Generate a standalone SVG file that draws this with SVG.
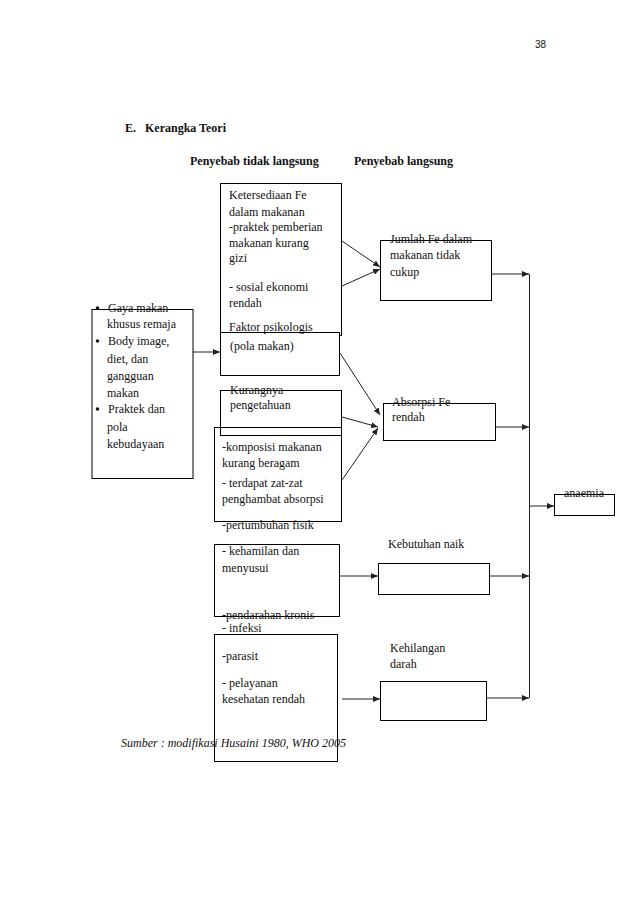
<svg xmlns="http://www.w3.org/2000/svg" width="638" height="902" viewBox="0 0 638 902">
<style>
text{font-family:"Liberation Serif","Times New Roman",serif;font-size:12px;fill:#111}
.b{font-weight:bold}
.box{fill:none;stroke:#000;stroke-width:1}
.wbox{fill:#fff;stroke:#000;stroke-width:1}
.c{fill:none;stroke:#222;stroke-width:1}
</style>
<defs>
<marker id="ah" markerWidth="7" markerHeight="6" refX="7" refY="3" orient="auto" markerUnits="userSpaceOnUse">
<path d="M0,0 L7,3 L0,6 Z" fill="#222"/>
</marker>
</defs>
<rect width="638" height="902" fill="#fff"/>
<text x="535" y="48" style="font-family:'Liberation Sans',Arial,sans-serif;font-size:10px">38</text>
<text x="125" y="132" class="b">E.</text>
<text x="145" y="132" class="b">Kerangka Teori</text>
<text x="190" y="165" class="b">Penyebab tidak langsung</text>
<text x="354" y="165" class="b">Penyebab langsung</text>

<g id="connectors">
<line class="c" x1="193" y1="352" x2="220" y2="352" marker-end="url(#ah)"/>
<line class="c" x1="342" y1="241" x2="380" y2="267" marker-end="url(#ah)"/>
<line class="c" x1="342" y1="286" x2="380" y2="269" marker-end="url(#ah)"/>
<line class="c" x1="340" y1="353" x2="380" y2="415" marker-end="url(#ah)"/>
<line class="c" x1="342" y1="417" x2="378" y2="427" marker-end="url(#ah)"/>
<line class="c" x1="342" y1="480" x2="378" y2="428" marker-end="url(#ah)"/>
<line class="c" x1="340" y1="576" x2="378" y2="576" marker-end="url(#ah)"/>
<line class="c" x1="342" y1="699" x2="380" y2="699" marker-end="url(#ah)"/>
<line class="c" x1="492" y1="274" x2="529" y2="274" marker-end="url(#ah)"/>
<line class="c" x1="496" y1="427" x2="529" y2="427" marker-end="url(#ah)"/>
<line class="c" x1="490" y1="576" x2="529" y2="576" marker-end="url(#ah)"/>
<line class="c" x1="487" y1="698" x2="529" y2="698" marker-end="url(#ah)"/>
<line class="c" x1="529.5" y1="274" x2="529.5" y2="698"/>
<line class="c" x1="529.5" y1="506" x2="554" y2="506" marker-end="url(#ah)"/>
</g>

<g id="node-left">
<rect class="box" x="92" y="309.5" width="101" height="169"/>
<circle cx="97.5" cy="308" r="1.8" fill="#111"/>
<text x="108" y="312">Gaya makan</text>
<text x="107" y="328">khusus remaja</text>
<circle cx="97.5" cy="341" r="1.8" fill="#111"/>
<text x="108" y="345">Body image,</text>
<text x="107" y="363">diet, dan</text>
<text x="107" y="380">gangguan</text>
<text x="107" y="397">makan</text>
<circle cx="97.5" cy="409" r="1.8" fill="#111"/>
<text x="108" y="413">Praktek dan</text>
<text x="107" y="431">pola</text>
<text x="107" y="448">kebudayaan</text>
</g>

<g id="node-ketersediaan">
<rect class="box" x="220.5" y="183.5" width="121" height="152"/>
<text x="229" y="199">Ketersediaan Fe</text>
<text x="229" y="216">dalam makanan</text>
<text x="229" y="231">-praktek pemberian</text>
<text x="229" y="247">makanan kurang</text>
<text x="229" y="262">gizi</text>
<text x="229" y="291">- sosial ekonomi</text>
<text x="229" y="307">rendah</text>
</g>

<g id="node-faktor">
<rect class="wbox" x="220.5" y="332.5" width="119" height="43"/>
<text x="229" y="331">Faktor psikologis</text>
<text x="230" y="350">(pola makan)</text>
</g>

<g id="node-kurangnya">
<rect class="box" x="220.5" y="390.5" width="121" height="45"/>
<text x="230" y="394">Kurangnya</text>
<text x="230" y="409">pengetahuan</text>
</g>

<g id="node-komposisi">
<rect class="box" x="214.5" y="427.5" width="127" height="94"/>
<text x="222" y="451">-komposisi makanan</text>
<text x="222" y="467">kurang beragam</text>
<text x="222" y="487">- terdapat zat-zat</text>
<text x="222" y="503">penghambat absorpsi</text>
</g>

<g id="node-kehamilan">
<text x="222" y="529">-pertumbuhan fisik</text>
<rect class="box" x="214.5" y="544.5" width="125" height="72"/>
<text x="222" y="555">- kehamilan dan</text>
<text x="222" y="572">menyusui</text>
<text x="222" y="619">-pendarahan kronis</text>
</g>

<g id="node-infeksi">
<text x="222" y="632">- infeksi</text>
<rect class="box" x="214.5" y="634.5" width="123" height="127"/>
<text x="222" y="660">-parasit</text>
<text x="222" y="687">- pelayanan</text>
<text x="222" y="703">kesehatan rendah</text>
</g>

<g id="node-jumlah">
<rect class="box" x="380.5" y="240.5" width="111" height="60"/>
<text x="390" y="243">Jumlah Fe dalam</text>
<text x="390" y="259">makanan tidak</text>
<text x="390" y="276">cukup</text>
</g>

<g id="node-absorpsi">
<rect class="box" x="383.5" y="403.5" width="112" height="37"/>
<text x="392" y="406">Absorpsi Fe</text>
<text x="392" y="421">rendah</text>
</g>

<g id="node-kebutuhan">
<text x="388" y="548">Kebutuhan naik</text>
<rect class="box" x="378.5" y="563.5" width="111" height="31"/>
</g>

<g id="node-kehilangan">
<text x="390" y="652">Kehilangan</text>
<text x="390" y="668">darah</text>
<rect class="box" x="380.5" y="681.5" width="106" height="39"/>
</g>

<g id="node-anaemia">
<rect class="box" x="554.5" y="494.5" width="60" height="21"/>
<text x="584" y="497" text-anchor="middle">anaemia</text>
</g>

<text x="121" y="747" style="font-style:italic">Sumber : modifikasi Husaini 1980, WHO 2005</text>
</svg>
